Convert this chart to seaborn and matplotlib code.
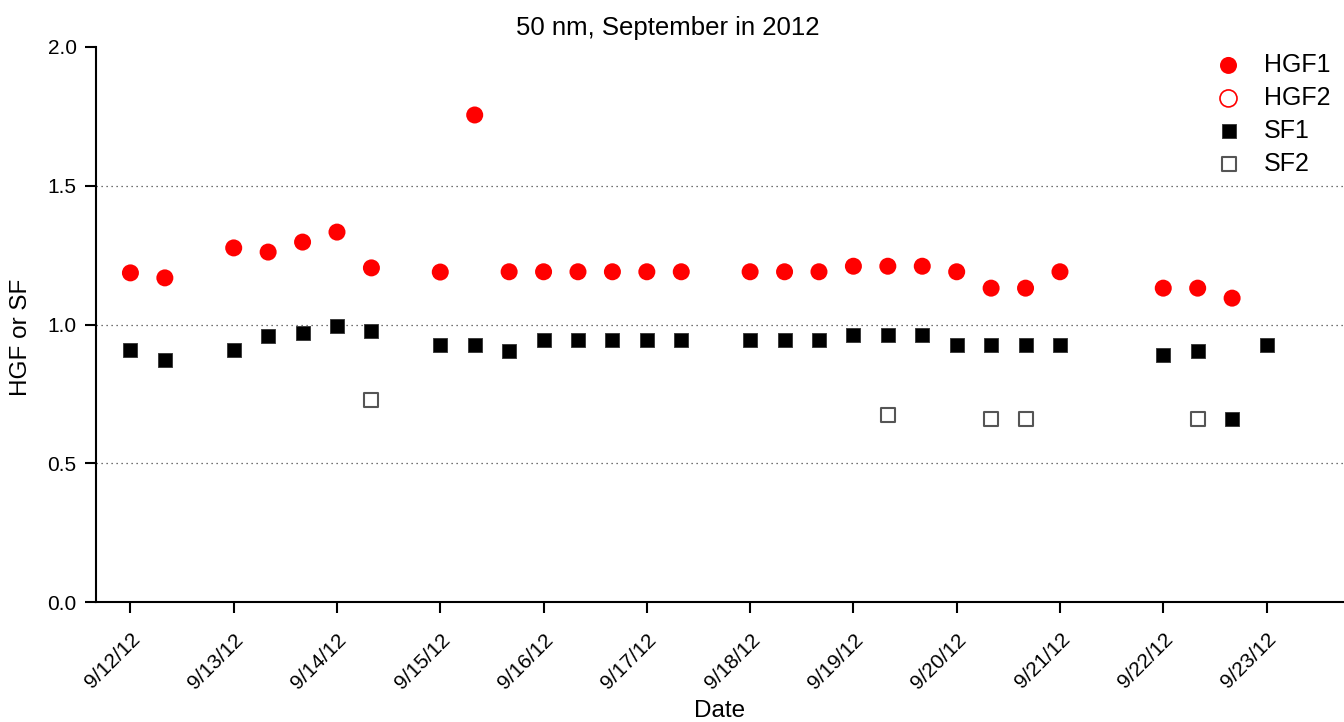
import matplotlib
matplotlib.use("Agg")
import matplotlib.pyplot as plt
import matplotlib.dates as mdates
import seaborn as sns
import pandas as pd
import numpy as np

# time slots (in 8-hour steps from 9/12/12 00:00)
hgf1_slots = [0, 1, 3, 4, 5, 6, 7, 9, 10, 11, 12, 13, 14, 15, 16, 18, 19, 20, 21, 22, 23, 24, 25, 26, 27, 30, 31, 32]
hgf1_vals = [1.186, 1.168, 1.276, 1.261, 1.297, 1.333, 1.204, 1.189, 1.755, 1.19, 1.19, 1.19, 1.19, 1.19, 1.19,
             1.19, 1.19, 1.19, 1.21, 1.21, 1.21, 1.19, 1.131, 1.131, 1.19, 1.131, 1.131, 1.095]

sf1_slots = [0, 1, 3, 4, 5, 6, 7, 9, 10, 11, 12, 13, 14, 15, 16, 18, 19, 20, 21, 22, 23, 24, 25, 26, 27, 30, 31, 32, 33]
sf1_vals = [0.908, 0.872, 0.908, 0.959, 0.969, 0.995, 0.977, 0.926, 0.926, 0.905, 0.944, 0.944, 0.944, 0.944, 0.944,
            0.944, 0.944, 0.944, 0.962, 0.962, 0.962, 0.926, 0.926, 0.926, 0.926, 0.89, 0.905, 0.66, 0.926]

sf2_slots = [7, 22, 25, 26, 31]
sf2_vals = [0.728, 0.674, 0.66, 0.66, 0.66]

hgf2_slots = []
hgf2_vals = []

start = pd.Timestamp("2012-09-12 00:00")
def to_time(slots):
    return [start + pd.Timedelta(hours=8 * s) for s in slots]

df_hgf1 = pd.DataFrame({"Date": to_time(hgf1_slots), "val": hgf1_vals})
df_sf1 = pd.DataFrame({"Date": to_time(sf1_slots), "val": sf1_vals})
df_sf2 = pd.DataFrame({"Date": to_time(sf2_slots), "val": sf2_vals})

sns.set_style("white")
plt.rcParams["font.family"] = ["Liberation Sans", "DejaVu Sans"]
plt.rcParams["text.color"] = "black"
plt.rcParams["axes.labelcolor"] = "black"
plt.rcParams["xtick.color"] = "black"
plt.rcParams["ytick.color"] = "black"

fig = plt.figure(figsize=(13.44, 7.22), dpi=100)
ax = fig.add_axes([96 / 1344, 120 / 722, 1 - 96 / 1344, (602 - 47) / 722])

for yv in [0.5, 1.0, 1.5]:
    ax.axhline(yv, color="#444444", lw=0.9, ls=(0, (1, 3)), zorder=0)

sns.scatterplot(data=df_hgf1, x="Date", y="val", ax=ax, marker="o", s=150, color="#ff0000",
                edgecolor="none", label="HGF1", zorder=3)
ax.scatter([], [], marker="o", s=150, facecolors="none", edgecolors="#ff0000", linewidths=1.2, label="HGF2")
sns.scatterplot(data=df_sf1, x="Date", y="val", ax=ax, marker="s", s=115, color="black",
                edgecolor="#333333", linewidth=0.6, label="SF1", zorder=3)
sns.scatterplot(data=df_sf2, x="Date", y="val", ax=ax, marker="s", s=100, facecolor="white",
                edgecolor="#555555", linewidth=1.5, label="SF2", zorder=3)

ax.set_ylim(0, 2.0)
ax.set_xlim(start - pd.Timedelta(hours=8), start + pd.Timedelta(hours=24 * 11.75))
ax.set_yticks([0.0, 0.5, 1.0, 1.5, 2.0])
ax.set_yticklabels(["0.0", "0.5", "1.0", "1.5", "2.0"])
ax.xaxis.set_major_locator(mdates.DayLocator())
ax.xaxis.set_major_formatter(mdates.DateFormatter("%-m/%-d/%y"))

for sp in ["top", "right"]:
    ax.spines[sp].set_visible(False)
for sp in ["left", "bottom"]:
    ax.spines[sp].set_color("black")
    ax.spines[sp].set_linewidth(1.5)

ax.tick_params(axis="both", which="major", direction="out", length=8, width=1.5, color="black",
               labelsize=15, bottom=True, left=True)
ax.tick_params(axis="y", pad=6)
ax.tick_params(axis="x", pad=12)
for lbl in ax.get_xticklabels():
    lbl.set_rotation(45)
    lbl.set_ha("right")
    lbl.set_va("top")
    lbl.set_rotation_mode("anchor")

ax.set_xlabel("Date", fontsize=17.5)
ax.xaxis.set_label_coords(0.5, (602 - 700) / 555)
ax.set_ylabel("HGF or SF", fontsize=17.5)
ax.yaxis.set_label_coords((32 - 96) / 1248, (602 - 337) / 555)
fig.suptitle("50 nm, September in 2012", fontsize=18.5, x=668 / 1344, y=1 - 16 / 722, va="top")

leg = ax.legend(loc="upper left", frameon=False, fontsize=18, handletextpad=0.9,
                labelspacing=0.36, borderpad=0, borderaxespad=0, handlelength=1.0,
                bbox_to_anchor=((1216 - 96) / 1248, (602 - 53) / 555))

fig.savefig("out.png", dpi=100)
